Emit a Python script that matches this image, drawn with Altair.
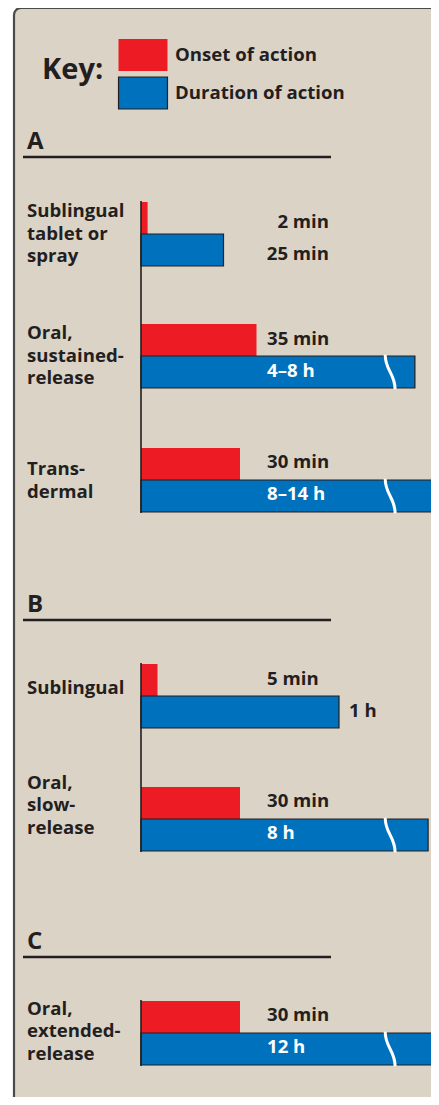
import altair as alt
import pandas as pd

# ---------------- data ----------------
sections = ["A", "B", "C"]
route_section = ["A", "A", "A", "B", "B", "C"]
route_lines = [
    ["Sublingual", "tablet or", "spray"],
    ["Oral,", "sustained-", "release"],
    ["Trans-", "dermal"],
    ["Sublingual"],
    ["Oral,", "slow-", "release"],
    ["Oral,", "extended-", "release"],
]
onset_min = [2, 35, 30, 5, 30, 30]
onset_label = ["2 min", "35 min", "30 min", "5  min", "30 min", "30 min"]
# drawn length of the duration bars (bars beyond the axis break are truncated)
duration_drawn_min = [25, 83, 90, 60, 87, 89.5]
duration_label = ["25 min", "4–8 h", "8–14 h", "1 h", "8 h", "12 h"]
duration_broken = [False, True, True, False, True, True]
break_at_min = 75.5
key_labels = ["Onset of action", "Duration of action"]

# ---------------- layout / style ----------------
RED, BLUE = "#ED1C24", "#0071BC"
BEIGE, DARK, BORDER = "#DCD3C7", "#231F20", "#4A4A4A"
FONT = "Open Sans"
FS = 18.6
PX_PER_MIN = 3.3
ORIGIN_X = 141              # page x of 0 min
VIEW_X0, VIEW_Y0 = 14, 8    # page position of the panel
W, H = 429, 1101            # panel runs past the window; clipped by negative padding
PAD_R = -12
PAD_B = -12
BAR_H = 32
LINE_H = 22.5
row_top = [202, 324, 448, 664, 787, 1001]
label_mid = [233.5, 355.5, 480.5, 688, 805, 1031]
header_rule_y = [157, 620, 957]
label_col_left = 267
label_col_right = 329
value_align = ["right", "left", "left", "left", "left", "left"]
value_dy = [3.5, -1, -2.5, -1, -2.5, -2]


def px_to_min(px):
    return (px - ORIGIN_X) / PX_PER_MIN


X_SCALE = alt.Scale(domain=[px_to_min(VIEW_X0), px_to_min(VIEW_X0 + W)], nice=False, zero=False)
Y_SCALE = alt.Scale(domain=[VIEW_Y0, VIEW_Y0 + H], reverse=True, nice=False, zero=False)


def X(f):
    return alt.X(f, type="quantitative", scale=X_SCALE, axis=None)


def Y(f):
    return alt.Y(f, type="quantitative", scale=Y_SCALE, axis=None)


# ---------------- tables ----------------
bars = []
for i in range(len(onset_min)):
    t = row_top[i]
    bars.append(dict(kind=key_labels[0], x0=0, x1=onset_min[i], y0=t, y1=t + BAR_H))
    bars.append(dict(kind=key_labels[1], x0=0, x1=duration_drawn_min[i], y0=t + BAR_H, y1=t + 2 * BAR_H))
bars = pd.DataFrame(bars)

breaks = pd.DataFrame([
    dict(x=break_at_min, y=row_top[i] + 1.5 * BAR_H)
    for i in range(len(onset_min)) if duration_broken[i]
])

axes_rows = []
for s in sections:
    idx = [i for i, r in enumerate(route_section) if r == s]
    axes_rows.append(dict(x=0, y0=row_top[idx[0]] - 1, y1=row_top[idx[-1]] + 2 * BAR_H + 1))
axes_df = pd.DataFrame(axes_rows)

headers = pd.DataFrame([
    dict(text=s, x=px_to_min(27), y=header_rule_y[k] - 8,
         rx0=px_to_min(23), rx1=px_to_min(331), ry=header_rule_y[k])
    for k, s in enumerate(sections)
])

route_text = pd.DataFrame([
    dict(text=lines, x=px_to_min(27), y=label_mid[i] - (len(lines) - 1) / 2 * LINE_H)
    for i, lines in enumerate(route_lines)
])

vals = []
for i in range(len(onset_min)):
    t = row_top[i] + value_dy[i]
    col = px_to_min(label_col_right if value_align[i] == "right" else label_col_left)
    vals.append(dict(text=onset_label[i], x=col, y=t + BAR_H / 2, inside=False,
                     align=value_align[i], dx=0))
    if duration_broken[i]:
        vals.append(dict(text=duration_label[i], x=col, y=t + 1.5 * BAR_H, inside=True,
                         align=value_align[i], dx=0))
    elif (ORIGIN_X + duration_drawn_min[i] * PX_PER_MIN) > label_col_left:
        vals.append(dict(text=duration_label[i], x=duration_drawn_min[i], y=t + 1.5 * BAR_H,
                         inside=False, align="left", dx=10))
    else:
        vals.append(dict(text=duration_label[i], x=col, y=t + 1.5 * BAR_H, inside=False,
                         align=value_align[i], dx=0))
vals = pd.DataFrame(vals)

# ---------------- layers ----------------
RECT_PATH = "M-1.53,-1H1.53V1H-1.53Z"
BREAK_PATH = "M-0.31,-1.08C-0.31,-0.1 0.31,0.1 0.31,1.08"

legend = alt.Legend(
    title="Key:", orient="none", legendX=28, legendY=30,
    titleOrient="left", titleFontSize=29, titleFont=FONT,
    titleFontWeight="bold", titleColor=DARK, titlePadding=22,
    titleBaseline="line-bottom", titleLineHeight=8, titleAnchor="middle",
    labelFont=FONT, labelFontSize=FS, labelFontWeight="bold", labelColor=DARK,
    labelOffset=15, labelLimit=400, symbolType=RECT_PATH, symbolSize=1024,
    symbolStrokeWidth=1.2, rowPadding=0, padding=0, symbolOpacity=1,
)

bar_layer = alt.Chart(bars).mark_rect(strokeWidth=1.2).encode(
    x=X("x0"), x2="x1", y=Y("y0"), y2="y1",
    color=alt.Color("kind:N", scale=alt.Scale(domain=key_labels, range=[RED, BLUE]),
                    sort=key_labels, legend=legend),
    stroke=alt.Stroke("kind:N", scale=alt.Scale(domain=key_labels, range=["rgba(0,0,0,0)", DARK]),
                      sort=key_labels, legend=legend),
)

break_layer = alt.Chart(breaks).mark_point(
    shape=BREAK_PATH, size=1024, filled=False, stroke="white", strokeWidth=3, opacity=1
).encode(x=X("x"), y=Y("y"))

axis_layer = alt.Chart(axes_df).mark_rule(color=DARK, strokeWidth=1.6).encode(
    x=X("x"), y=Y("y0"), y2="y1")

header_text = alt.Chart(headers).mark_text(
    font=FONT, fontWeight="bold", fontSize=24, color=DARK, align="left", baseline="alphabetic"
).encode(x=X("x"), y=Y("y"), text="text:N")

header_rule = alt.Chart(headers).mark_rule(color=DARK, strokeWidth=2.6).encode(
    x=X("rx0"), x2="rx1", y=Y("ry"))

route_layer = alt.Chart(route_text).mark_text(
    font=FONT, fontWeight="bold", fontSize=FS, color=DARK, align="left", baseline="middle",
    lineHeight=LINE_H,
).encode(x=X("x"), y=Y("y"), text="text")


def value_layer(align, dx):
    return alt.Chart(vals).transform_filter(
        (alt.datum.align == align) & (alt.datum.dx == dx)
    ).mark_text(
        font=FONT, fontWeight="bold", fontSize=FS, align=align, baseline="middle", dx=dx
    ).encode(
        x=X("x"), y=Y("y"), text="text:N",
        color=alt.condition("datum.inside", alt.value("white"), alt.value(DARK)),
    )


chart = alt.layer(
    bar_layer, break_layer, axis_layer, header_rule, header_text, route_layer,
    value_layer("left", 0), value_layer("right", 0), value_layer("left", 10),
).properties(
    width=W, height=H,
    autosize=alt.AutoSizeParams(type="none"),
    padding={"left": VIEW_X0 - 8, "top": 0, "right": PAD_R, "bottom": PAD_B},
    background="white",
).configure_view(
    fill=BEIGE, stroke=BORDER, strokeWidth=2.2, cornerRadius=7
)

chart.save("out.html", embed_options={"renderer": "svg", "actions": False})
